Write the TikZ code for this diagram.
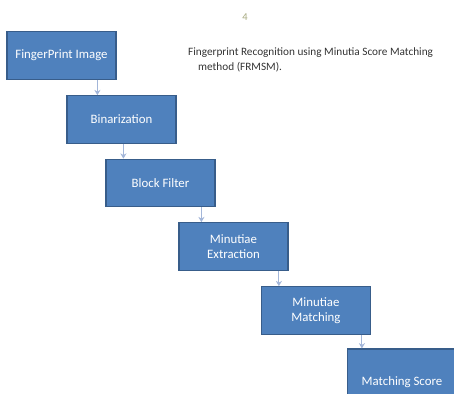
\documentclass[tikz,border=0pt]{standalone}
\usepackage{fontspec}
\setmainfont{Carlito}
\usepackage{tikz}
\usetikzlibrary{arrows.meta, positioning, calc}

\definecolor{boxblue}{HTML}{4F81BD}
\definecolor{boxline}{HTML}{385D8A}
\definecolor{arrowgray}{HTML}{A3B6D9}
\definecolor{pagenum}{HTML}{A6A97F}

\begin{document}
\begin{tikzpicture}[
    x=0.02cm, y=-0.02cm,
    stage/.style={rectangle, draw=boxline, line width=0.7pt, fill=boxblue, text=white,
      minimum width=2.18cm, minimum height=0.95cm, align=center,
      font=\fontsize{7.3}{8.6}\selectfont},
    flow/.style={draw=arrowgray, line width=0.6pt, -{Stealth[length=3pt, width=3.5pt]}},
    caption/.style={align=left, text=black!80, font=\fontsize{6.4}{9}\selectfont}
  ]
  \useasboundingbox (0,0) rectangle (454,394);
  \clip (0,0) rectangle (454,394);

  \node[text=pagenum, font=\fontsize{6}{7}\selectfont] (pagenum) at (245,17) {4};
  \node[caption, anchor=north west] (title) at (182,41)
    {Fingerprint Recognition using Minutia Score Matching\\\hspace*{0.2cm}method (FRMSM).};

  \node[stage] (image) at (61.5,55.5) {FingerPrint Image};
  \node[stage] (binar) at (121.5,119.5) {Binarization};
  \node[stage] (block) at (160.5,183) {Block Filter};
  \node[stage] (extract) at (233.5,246.5) {Minutiae\\Extraction};
  \node[stage] (match) at (316,310.5) {Minutiae\\Matching};
  \node[stage, minimum height=1.32cm] (score) at (402,382) {Matching Score};

  \coordinate (a1) at ($(binar.north west)+(31,0)$);
  \coordinate (a2) at ($(block.north west)+(18,0)$);
  \coordinate (a3) at ($(extract.north west)+(23,0)$);
  \coordinate (a4) at ($(match.north west)+(18,0)$);
  \coordinate (a5) at ($(score.north west)+(15,0)$);

  \draw[flow] (image.south -| a1) -- (a1);
  \draw[flow] (binar.south -| a2) -- (a2);
  \draw[flow] (block.south -| a3) -- (a3);
  \draw[flow] (extract.south -| a4) -- (a4);
  \draw[flow] (match.south -| a5) -- (a5);
\end{tikzpicture}
\end{document}
